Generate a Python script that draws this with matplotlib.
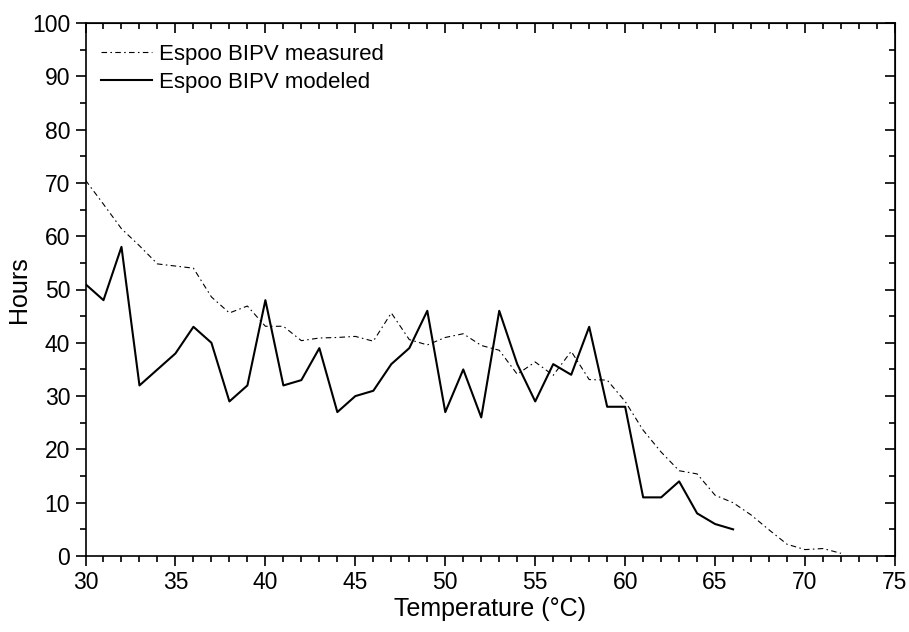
import numpy as np
import matplotlib
matplotlib.use('Agg')
from matplotlib import pyplot as plt
from matplotlib.ticker import MultipleLocator

plt.rcParams['font.family'] = ['Liberation Sans', 'DejaVu Sans']

# measured hours per temperature bin
temp_measured = list(range(30, 73))
hours_measured = [70.5, 66, 61.4, 58.2, 54.8, 54.4, 54, 48.6, 45.6, 46.9,
                  43.1, 43.1, 40.4, 40.9, 41, 41.2, 40.3, 45.6, 40.6, 39.6,
                  41, 41.7, 39.5, 38.6, 34.1, 36.4, 33.9, 38.4, 33.1, 33,
                  29, 23.6, 19.5, 16, 15.4, 11.4, 10, 7.7, 4.9, 2.2,
                  1.2, 1.4, 0.5]

# modeled hours per temperature bin
temp_modeled = list(range(30, 67))
hours_modeled = [51, 48, 58, 32, 35, 38, 43, 40, 29, 32,
                 48, 32, 33, 39, 27, 30, 31, 36, 39, 46,
                 27, 35, 26, 46, 36, 29, 36, 34, 43, 28,
                 28, 11, 11, 14, 8, 6, 5]

fig = plt.figure(figsize=(9.09, 6.32), dpi=100)
ax = fig.add_axes([85.5 / 909, 1 - 556 / 632, (895 - 85.5) / 909, (556 - 23) / 632])

ax.plot(temp_measured, hours_measured, color='black', lw=0.8,
        linestyle=(0, (5, 3, 1.4, 3)), label='Espoo BIPV measured')
ax.plot(temp_modeled, hours_modeled, color='black', lw=1.5,
        label='Espoo BIPV modeled')

ax.set_xlim(30, 75)
ax.set_ylim(0, 100)
ax.xaxis.set_major_locator(MultipleLocator(5))
ax.xaxis.set_minor_locator(MultipleLocator(1))
ax.yaxis.set_major_locator(MultipleLocator(10))
ax.yaxis.set_minor_locator(MultipleLocator(5))

for s in ax.spines.values():
    s.set_linewidth(1.2)

# bottom/left ticks outside, top/right ticks inside
ax.tick_params(which='major', direction='out', length=7, width=1.2,
               labelsize=16.5, pad=4)
ax.tick_params(which='minor', direction='out', length=4, width=1.2)
ax2 = ax.secondary_xaxis('top')
ax2.xaxis.set_major_locator(MultipleLocator(5))
ax2.xaxis.set_minor_locator(MultipleLocator(1))
ax2.tick_params(which='major', direction='in', length=7, width=1.2, labeltop=False)
ax2.tick_params(which='minor', direction='in', length=4, width=1.2)
ax3 = ax.secondary_yaxis('right')
ax3.yaxis.set_major_locator(MultipleLocator(10))
ax3.yaxis.set_minor_locator(MultipleLocator(5))
ax3.tick_params(which='major', direction='in', length=7, width=1.2, labelright=False)
ax3.tick_params(which='minor', direction='in', length=4, width=1.2)

ax.set_xlabel('Temperature (°C)', fontsize=18, labelpad=2)
ax.set_ylabel('Hours', fontsize=18, labelpad=1)

ax.legend(loc='upper left', bbox_to_anchor=(0.0, 0.99), frameon=False,
          fontsize=16, handlelength=2.3, handletextpad=0.3,
          labelspacing=0.3, borderaxespad=0.3)

fig.savefig('out.png', dpi=100)
